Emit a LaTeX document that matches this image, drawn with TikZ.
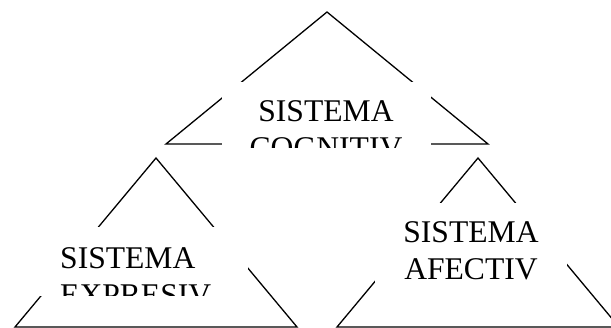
\documentclass[tikz,border=0pt]{standalone}
\usepackage{fontspec}
\setmainfont{Liberation Serif}
\usetikzlibrary{positioning}

\tikzset{
  lbl/.style={inner sep=0pt, text=black, font=\fontsize{31.6}{37}\selectfont},
  tri/.style={black, line width=1.3pt},
}

\begin{document}
\begin{tikzpicture}[x=1pt,y=-1pt]
\clip (0,0) rectangle (611,328);
% vertices
\coordinate (cogT) at (327,12);
\coordinate (cogL) at (166,144);
\coordinate (cogR) at (488,144);
\coordinate (expT) at (156,158);
\coordinate (expL) at (15,327);
\coordinate (expR) at (297,327);
\coordinate (afeT) at (478,158);
\coordinate (afeL) at (337,327);
\coordinate (afeR) at (619,327);
\draw[tri] (cogT) -- (cogL) -- (cogR) -- cycle;
\draw[tri] (expT) -- (expL) -- (expR) -- cycle;
\draw[tri] (afeT) -- (afeL) -- (afeR) -- cycle;
% text boxes
\fill[white] (222,82) rectangle (431,148);
\fill[white] (40,227) rectangle (248,296);
\fill[white] (375,203) rectangle (567,292);
\begin{scope}
\clip (222,82) rectangle (431,148);
\node[lbl, anchor=base] (cog1) at (326,122) {SISTEMA};
\node[lbl, anchor=base] (cog2) at (326,159) {COGNITIV};
\end{scope}
\begin{scope}
\clip (40,227) rectangle (248,296);
\node[lbl, anchor=base west] (exp1) at (60,269) {SISTEMA};
\node[lbl, anchor=base west] (exp2) at (60,306) {EXPRESIV};
\end{scope}
\node[lbl, anchor=base] (afe1) at (471,243) {SISTEMA};
\node[lbl, anchor=base] (afe2) at (471,280) {AFECTIV};
\end{tikzpicture}
\end{document}
